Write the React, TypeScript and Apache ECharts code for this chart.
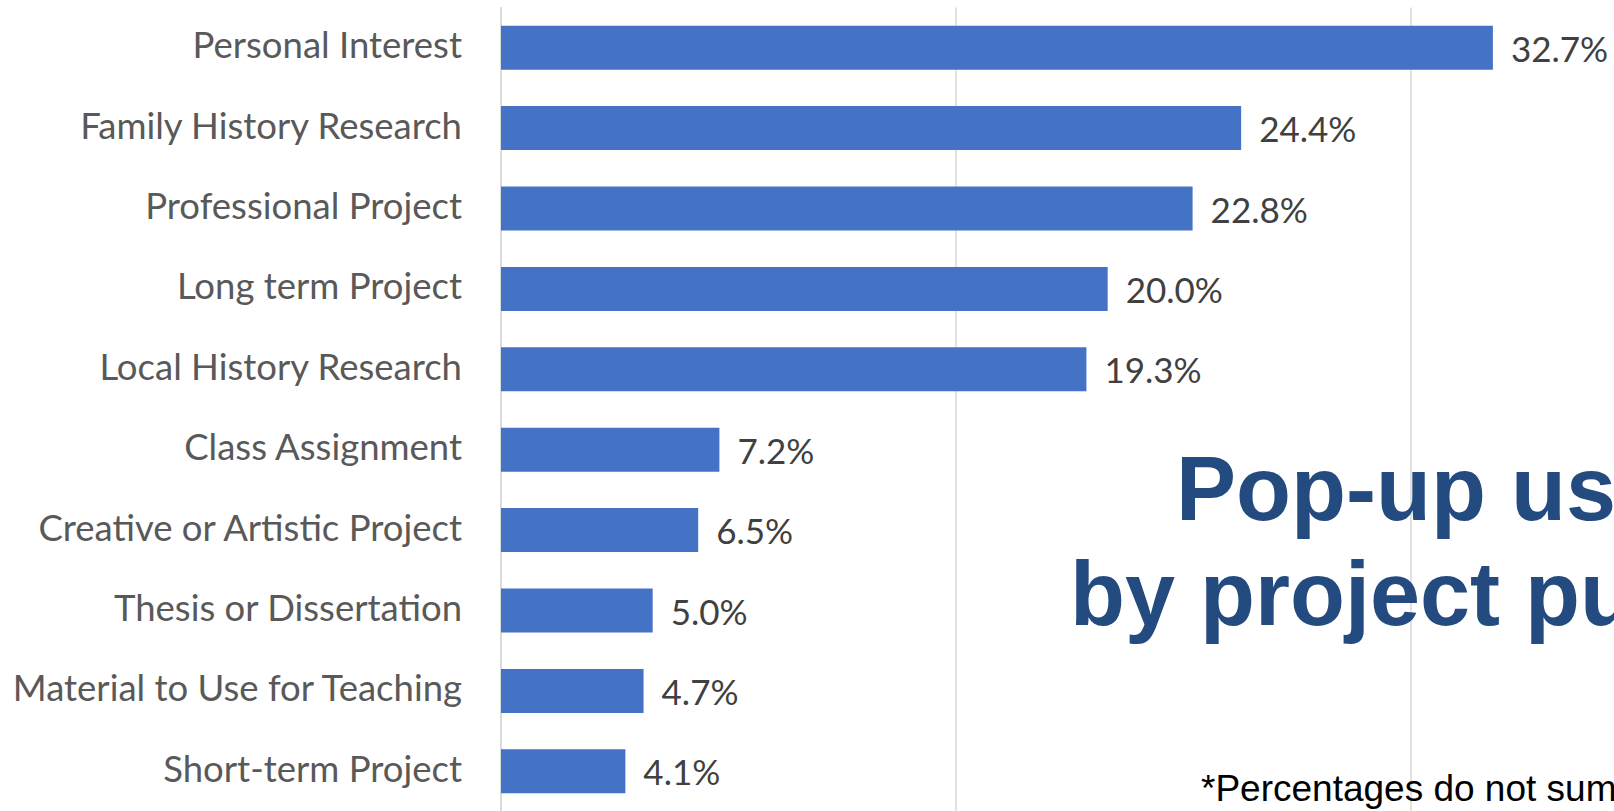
import React, { useEffect, useRef } from "react";
import * as echarts from "echarts";

const categories = [
  "Personal Interest",
  "Family History Research",
  "Professional Project",
  "Long term Project",
  "Local History Research",
  "Class Assignment",
  "Creative or Artistic Project",
  "Thesis or Dissertation",
  "Material to Use for Teaching",
  "Short-term Project",
];
const values = [32.7, 24.4, 22.8, 20.0, 19.3, 7.2, 6.5, 5.0, 4.7, 4.1];
const titleLines = ["Pop-up usage", "by project purpose"];
const footnote = "*Percentages do not sum to 100%";

export default function App() {
  const ref = useRef<HTMLDivElement>(null);
  useEffect(() => {
    if (!ref.current) return;
    const chart = echarts.init(ref.current, null, { renderer: "svg" });
    chart.setOption({
      animation: false,
      backgroundColor: "#ffffff",
      grid: {
        left: 501,
        top: 7.5,
        width: 1365,
        height: 804,
        outerBoundsMode: "none",
      },
      xAxis: {
        type: "value",
        min: 0,
        max: 45,
        interval: 15,
        axisLabel: { show: false },
        axisLine: { show: false },
        axisTick: { show: false },
        splitLine: { show: true, lineStyle: { color: "#d9d9d9", width: 1.5 } },
      },
      yAxis: {
        type: "category",
        inverse: true,
        data: categories,
        axisLine: { show: true, lineStyle: { color: "#d9d9d9", width: 1.5 } },
        axisTick: { show: false },
        axisLabel: {
          margin: 39,
          color: "#595959",
          fontFamily: "Lato",
          fontSize: 36.5,
          verticalAlign: "bottom",
          lineHeight: 7,
        },
      },
      graphic: [
        {
          type: "text",
          z: 10,
          style: {
            text: titleLines[0],
            x: 1176,
            y: 488.8,
            textAlign: "left",
            textVerticalAlign: "middle",
            font: "bold 90px 'Liberation Sans', Arial, sans-serif",
            fill: "#244B7F",
          },
        },
        {
          type: "text",
          z: 10,
          style: {
            text: titleLines[1],
            x: 1070,
            y: 593.8,
            textAlign: "left",
            textVerticalAlign: "middle",
            font: "bold 90px 'Liberation Sans', Arial, sans-serif",
            fill: "#244B7F",
          },
        },
        {
          type: "text",
          z: 10,
          style: {
            text: footnote,
            x: 1201,
            y: 788.2,
            textAlign: "left",
            textVerticalAlign: "middle",
            font: "37px 'Liberation Sans', Arial, sans-serif",
            fill: "#000000",
          },
        },
      ],
      series: [
        {
          type: "bar",
          data: values,
          barWidth: 44,
          itemStyle: { color: "#4472C4" },
          label: {
            show: true,
            position: "right",
            distance: 18,
            color: "#404040",
            fontFamily: "Lato",
            fontSize: 35,
            formatter: (p: any) => p.value.toFixed(1) + "%",
          },
        },
      ],
    });
    return () => chart.dispose();
  }, []);
  return (
    <div
      ref={ref}
      style={{ position: "absolute", left: 0, top: 0, width: 1614, height: 811 }}
    />
  );
}
